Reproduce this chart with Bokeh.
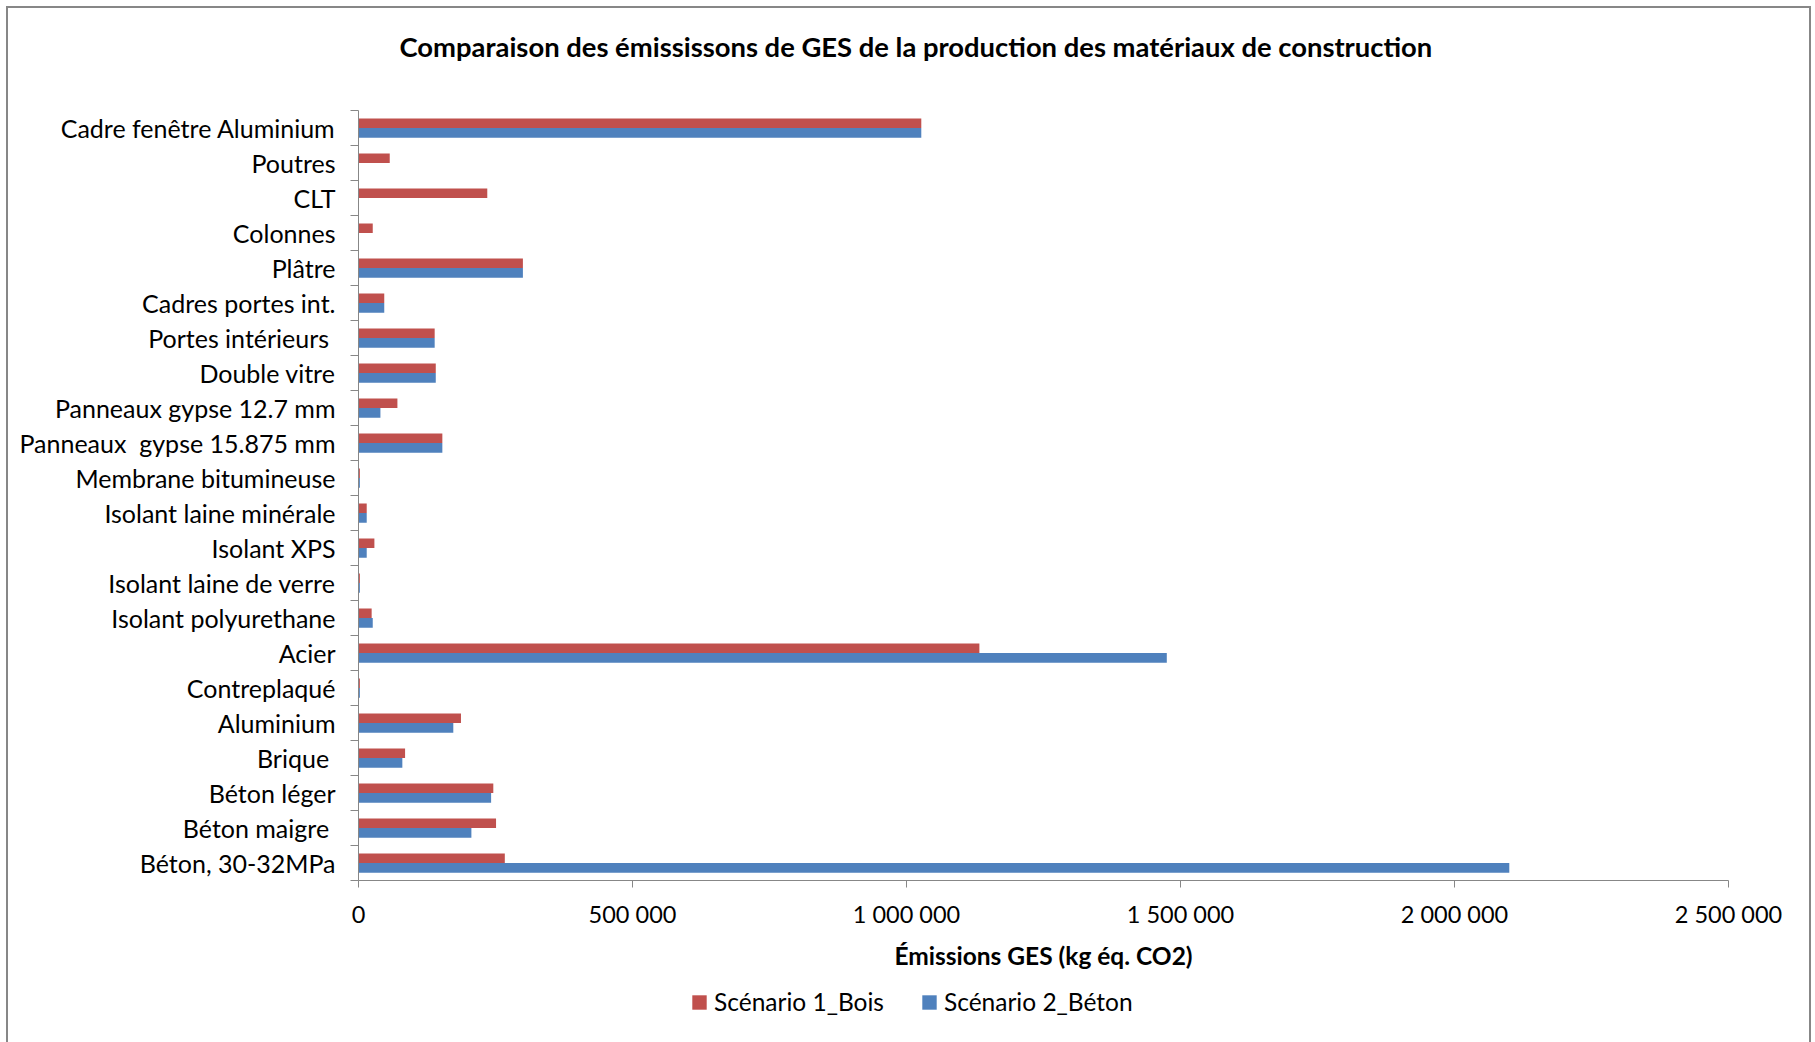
from bokeh.plotting import figure
from bokeh.layouts import column
from bokeh.models import (ColumnDataSource, Range1d, FixedTicker, CustomJSTickFormatter,
                          Legend, LegendItem)
from bokeh.embed import file_html
from bokeh.resources import INLINE

categories = ["Cadre fenêtre Aluminium", "Poutres", "CLT", "Colonnes", "Plâtre",
              "Cadres portes int.", "Portes intérieurs\u00a0", "Double vitre",
              "Panneaux gypse 12.7 mm", "Panneaux\u00a0 gypse 15.875 mm",
              "Membrane bitumineuse", "Isolant laine minérale", "Isolant XPS",
              "Isolant laine de verre", "Isolant polyurethane", "Acier", "Contreplaqué",
              "Aluminium", "Brique\u00a0", "Béton léger", "Béton maigre\u00a0", "Béton, 30-32MPa"]
scenario1_bois = [1027000, 57000, 235000, 26000, 300000, 47000, 139000, 141000, 71000, 153000,
                  2500, 15000, 29000, 2500, 24000, 1133000, 2500, 187000, 85000, 246000,
                  251000, 267000]
scenario2_beton = [1027000, 0, 0, 0, 300000, 47000, 139000, 141000, 40000, 153000,
                   2500, 15000, 15000, 2500, 26000, 1475000, 2500, 173000, 80000, 242000,
                   206000, 2100000]
x_ticks = [0, 500000, 1000000, 1500000, 2000000, 2500000]
series_names = ["Scénario 1_Bois", "Scénario 2_Béton"]
title_text = "Comparaison des émississons de GES de la production des matériaux de construction"

RED = "#C0504D"
BLUE = "#4F81BD"
GRAY = "#878787"
FONT = "Lato"
W = 1801

n = len(categories)
pos = [n - 1 - i for i in range(n)]
src = ColumnDataSource(dict(
    cat=categories, pos=pos,
    y1=[p_ + 0.1375 for p_ in pos], y2=[p_ - 0.1375 for p_ in pos],
    bois=scenario1_bois, beton=scenario2_beton,
))

# ---- title strip
t = figure(width=W, height=102, title=title_text, x_axis_location=None,
           y_axis_location=None, output_backend="svg", toolbar_location=None,
           min_border=0, x_range=Range1d(0, 1), y_range=Range1d(0, 1))
t.grid.visible = False
t.outline_line_color = None
t.title.align = "left"
t.title.offset = 41
t.title.standoff = 38
t.title.text_font = FONT
t.title.text_font_style = "bold"
t.title.text_font_size = "27.4px"
t.title.text_color = "black"

# ---- main chart
p = figure(width=W, height=870, x_range=Range1d(0, x_ticks[-1]),
           y_range=Range1d(-0.5, n - 0.5), output_backend="svg", toolbar_location=None,
           min_border_left=350, min_border_right=81, min_border_top=0,
           min_border_bottom=100)

r1 = p.hbar(y="y1", left=0, right="bois", height=0.275, fill_color=RED, line_color=None,
            source=src)
r2 = p.hbar(y="y2", left=0, right="beton", height=0.275, fill_color=BLUE, line_color=None,
            source=src)

p.xgrid.visible = False
p.ygrid.visible = False
p.outline_line_color = None

xa = p.xaxis[0]
xa.ticker = FixedTicker(ticks=x_ticks)
xa.formatter = CustomJSTickFormatter(
    code="return tick.toFixed(0).replace(/\\B(?=(\\d{3})+(?!\\d))/g, ' ');")
xa.axis_line_color = GRAY
xa.major_tick_line_color = GRAY
xa.major_tick_out = 7
xa.major_tick_in = 0
xa.minor_tick_out = 0
xa.minor_tick_in = 0
xa.major_label_text_font = FONT
xa.major_label_text_font_size = "23.5px"
xa.major_label_text_color = "black"
xa.major_label_standoff = 12
xa.axis_label = "Émissions GES (kg éq. CO2)"
xa.axis_label_text_font = FONT
xa.axis_label_text_font_style = "bold"
xa.axis_label_text_font_size = "24.5px"
xa.axis_label_text_color = "black"
xa.axis_label_standoff = 10

ya = p.yaxis[0]
ya.ticker = FixedTicker(ticks=pos, minor_ticks=[k - 0.5 for k in range(n + 1)])
ya.major_label_overrides = {pp: c for pp, c in zip(pos, categories)}
ya.axis_line_color = GRAY
ya.major_tick_out = 0
ya.major_tick_in = 0
ya.minor_tick_out = 8
ya.minor_tick_in = 0
ya.minor_tick_line_color = GRAY
ya.major_label_text_font = FONT
ya.major_label_text_font_size = "25px"
ya.major_label_text_color = "black"
ya.major_label_standoff = 15

# ---- legend strip
q = figure(width=W, height=68, x_axis_location=None, y_axis_location=None,
           output_backend="svg", toolbar_location=None, min_border=0,
           x_range=Range1d(0, 1), y_range=Range1d(0, 1))
q.grid.visible = False
q.outline_line_color = None
q1 = q.hbar(y="y1", left=0, right="bois", height=0.275, fill_color=RED, line_color=None,
            source=src, visible=False)
q2 = q.hbar(y="y2", left=0, right="beton", height=0.275, fill_color=BLUE, line_color=None,
            source=src, visible=False)
legend = Legend(items=[LegendItem(label=series_names[0], renderers=[q1]),
                       LegendItem(label=series_names[1], renderers=[q2])],
                orientation="horizontal", location=(332, 32),
                padding=0, margin=0, spacing=36, label_standoff=6,
                glyph_width=18, glyph_height=18, border_line_color=None,
                background_fill_alpha=0,
                label_text_font=FONT, label_text_font_size="24.5px",
                label_text_color="black")
q.add_layout(legend, "center")

layout = column(t, p, q, spacing=0, margin=(6, 0, 0, 6),
                styles={"border": "2.5px solid " + GRAY})

open("out.html", "w").write(file_html(layout, INLINE))
